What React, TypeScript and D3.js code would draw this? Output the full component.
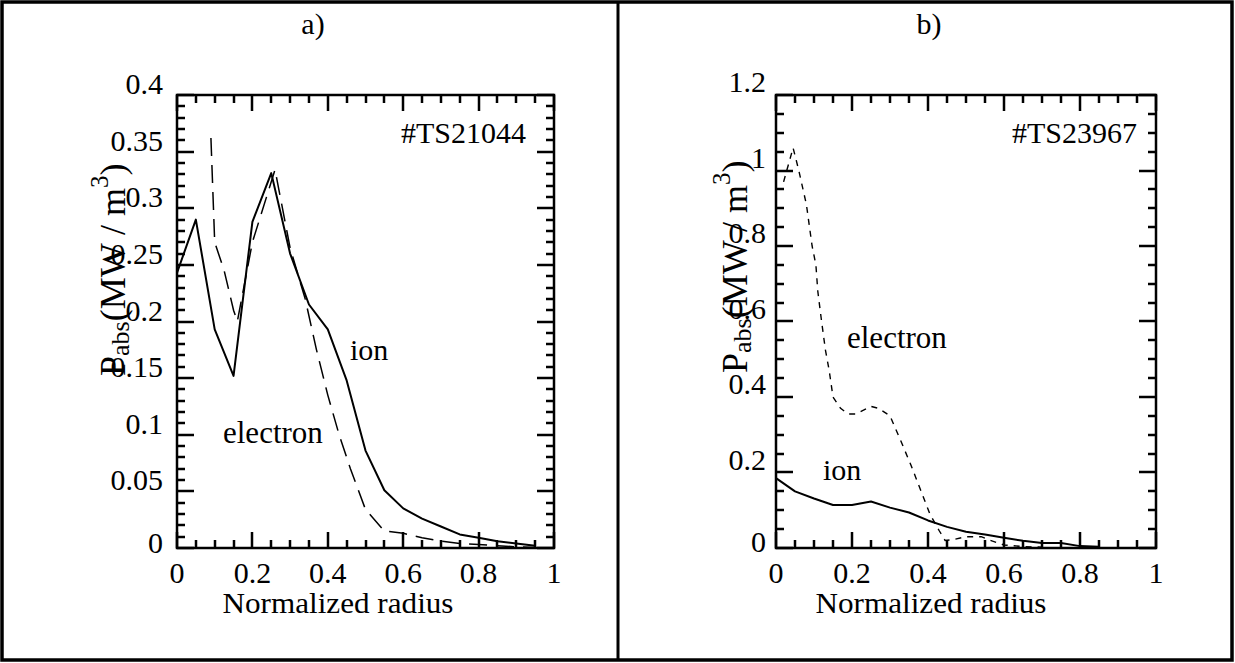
import React from "react";
import * as d3 from "d3";

// ---------- data ----------
const xTickValues = [0, 0.2, 0.4, 0.6, 0.8, 1];
const xTickLabels = ["0", "0.2", "0.4", "0.6", "0.8", "1"];

const yTickValuesA = [0, 0.05, 0.1, 0.15, 0.2, 0.25, 0.3, 0.35, 0.4];
const yTickLabelsA = ["0", "0.05", "0.1", "0.15", "0.2", "0.25", "0.3", "0.35", "0.4"];
const yTickValuesB = [0, 0.2, 0.4, 0.6, 0.8, 1, 1.2];
const yTickLabelsB = ["0", "0.2", "0.4", "0.6", "0.8", "1", "1.2"];

// panel a) #TS21044
const ionRadiusA = [0, 0.05, 0.1, 0.15, 0.2, 0.25, 0.3, 0.35, 0.4, 0.45, 0.5, 0.55, 0.6, 0.65, 0.7, 0.75, 0.8, 0.85, 0.9, 0.95];
const ionPowerA = [0.243, 0.29, 0.193, 0.152, 0.288, 0.331, 0.26, 0.215, 0.193, 0.148, 0.086, 0.051, 0.035, 0.026, 0.019, 0.012, 0.009, 0.006, 0.004, 0.002];
const electronRadiusA = [0.09, 0.1, 0.125, 0.15, 0.16, 0.2, 0.26, 0.3, 0.34, 0.37, 0.4, 0.43, 0.46, 0.5, 0.55, 0.6, 0.65, 0.7, 0.75, 0.8, 0.85, 0.9, 0.95];
const electronPowerA = [0.362, 0.27, 0.245, 0.21, 0.2, 0.27, 0.334, 0.265, 0.22, 0.175, 0.135, 0.1, 0.07, 0.034, 0.015, 0.013, 0.009, 0.006, 0.004, 0.003, 0.002, 0.001, 0.0005];

// panel b) #TS23967
const ionRadiusB = [0, 0.05, 0.1, 0.15, 0.2, 0.25, 0.3, 0.35, 0.4, 0.45, 0.5, 0.55, 0.6, 0.65, 0.7, 0.75, 0.8, 0.85];
const ionPowerB = [0.185, 0.15, 0.131, 0.114, 0.114, 0.123, 0.107, 0.094, 0.073, 0.056, 0.043, 0.036, 0.027, 0.019, 0.013, 0.013, 0.005, 0.003];
const electronRadiusB = [0.02, 0.045, 0.06, 0.08, 0.095, 0.105, 0.11, 0.12, 0.13, 0.14, 0.15, 0.17, 0.19, 0.21, 0.25, 0.27, 0.3, 0.33, 0.355, 0.38, 0.405, 0.43, 0.445, 0.465, 0.5, 0.54, 0.57, 0.6, 0.65, 0.7];
const electronPowerB = [0.97, 1.06, 1.0, 0.91, 0.8, 0.75, 0.68, 0.6, 0.525, 0.47, 0.4, 0.37, 0.355, 0.355, 0.375, 0.37, 0.35, 0.28, 0.22, 0.155, 0.09, 0.045, 0.02, 0.022, 0.03, 0.03, 0.018, 0.008, 0.004, 0.002];

const FONT = "Liberation Serif, Times New Roman, Times, serif";

type PanelCfg = {
  title: string;
  titleX: number;
  x0: number; x1: number; y0: number; y1: number;
  yMax: number;
  yTicks: number[]; yLabels: string[];
  yMinor: number; yMajor: number;
  labelRight: number; labelOff: number; zeroOff: number;
  shot: string; shotX: number;
  ionR: number[]; ionP: number[];
  elR: number[]; elP: number[];
  dash: string; dashWidth: number;
  ionLabel: [number, number]; elLabel: [number, number];
  ylabX: number; ylabY: number;
  xTitleX: number;
};

const panels: PanelCfg[] = [
  {
    title: "a)", titleX: 313,
    x0: 177, x1: 554, y0: 95, y1: 548,
    yMax: 0.4, yTicks: yTickValuesA, yLabels: yTickLabelsA,
    yMinor: 0.01, yMajor: 0.05,
    labelRight: 163, labelOff: -11, zeroOff: -5,
    shot: "#TS21044", shotX: 526,
    ionR: ionRadiusA, ionP: ionPowerA, elR: electronRadiusA, elP: electronPowerA,
    dash: "18,9", dashWidth: 1.5,
    ionLabel: [350, 360], elLabel: [223, 443],
    ylabX: 125, ylabY: 376,
    xTitleX: 338,
  },
  {
    title: "b)", titleX: 929,
    x0: 776, x1: 1156, y0: 95, y1: 548,
    yMax: 1.2, yTicks: yTickValuesB, yLabels: yTickLabelsB,
    yMinor: 0.05, yMajor: 0.2,
    labelRight: 766, labelOff: -13, zeroOff: -6,
    shot: "#TS23967", shotX: 1137,
    ionR: ionRadiusB, ionP: ionPowerB, elR: electronRadiusB, elP: electronPowerB,
    dash: "6,6", dashWidth: 1.4,
    ionLabel: [823, 480], elLabel: [847, 348],
    ylabX: 747, ylabY: 373,
    xTitleX: 931,
  },
];

function isMajor(v: number, step: number) {
  const r = v / step;
  return Math.abs(r - Math.round(r)) < 1e-6;
}

function Panel({ p }: { p: PanelCfg }) {
  const x = d3.scaleLinear().domain([0, 1]).range([p.x0, p.x1]);
  const y = d3.scaleLinear().domain([0, p.yMax]).range([p.y1, p.y0]);
  const mk = (rs: number[], ps: number[]) =>
    d3.line<[number, number]>().x((d) => x(d[0])).y((d) => y(d[1]))(rs.map((r, i) => [r, ps[i]] as [number, number])) || "";

  const xMinor = d3.range(0, 1 + 1e-9, 0.05);
  const yMinor = d3.range(0, p.yMax + 1e-9, p.yMinor);

  let tickPath = "";
  xMinor.forEach((v) => {
    const L = isMajor(v, 0.2) ? 16 : 8;
    const xx = Math.round(x(v));
    tickPath += `M${xx},${p.y1}V${p.y1 - L}M${xx},${p.y0}V${p.y0 + L}`;
  });
  yMinor.forEach((v) => {
    const L = isMajor(v, p.yMajor) ? 17 : 8;
    const yy = Math.round(y(v));
    tickPath += `M${p.x0},${yy}H${p.x0 + L}M${p.x1},${yy}H${p.x1 - L}`;
  });

  const txt = { fontFamily: FONT };

  return (
    <g>
      <text x={p.titleX} y={34} fontSize={30} textAnchor="middle" style={txt}>{p.title}</text>
      {/* data */}
      <path d={mk(p.elR, p.elP)} fill="none" stroke="#000" strokeWidth={p.dashWidth} strokeDasharray={p.dash} />
      <path d={mk(p.ionR, p.ionP)} fill="none" stroke="#000" strokeWidth={2} strokeLinejoin="round" />
      {/* frame & ticks */}
      <rect x={p.x0} y={p.y0} width={p.x1 - p.x0} height={p.y1 - p.y0} fill="none" stroke="#000" strokeWidth={2.5} />
      <path d={tickPath} fill="none" stroke="#000" strokeWidth={2.5} strokeLinecap="butt" />
      {xTickValues.map((v, i) => (
        <text key={"xl" + i} x={x(v)} y={p.y1 + 35} fontSize={30} textAnchor="middle" style={txt}>{xTickLabels[i]}</text>
      ))}
      {p.yTicks.map((v, i) => (
        <text key={"yl" + i} x={p.labelRight} y={y(v) + (v === 0 ? p.zeroOff : p.labelOff) + 10} fontSize={30} textAnchor="end" style={txt}>{p.yLabels[i]}</text>
      ))}
      <text x={p.xTitleX} y={p.y1 + 65} fontSize={29} textAnchor="middle" style={txt} textLength={231} lengthAdjust="spacingAndGlyphs">Normalized radius</text>
      <text x={p.shotX} y={143} fontSize={30} textAnchor="end" style={txt}>{p.shot}</text>
      <text x={p.ionLabel[0]} y={p.ionLabel[1]} fontSize={30} style={txt}>ion</text>
      <text x={p.elLabel[0]} y={p.elLabel[1]} fontSize={31} style={txt}>electron</text>
      <text transform={`translate(${p.ylabX},${p.ylabY}) rotate(-90)`} fontSize={36} style={txt}>
        <tspan>P</tspan>
        <tspan fontSize={26} dy={4}>abs</tspan>
        <tspan dy={-4}>(MW / m</tspan>
        <tspan fontSize={25} dy={-17}>3</tspan>
        <tspan dy={17}>)</tspan>
      </text>
    </g>
  );
}

export default function App() {
  return (
    <svg width={1235} height={663} style={{ position: "absolute", left: 0, top: 0, background: "#fff" }}>
      <rect x={0} y={0} width={1235} height={663} fill="#fff" />
      <rect x={2} y={2} width={1230} height={658} fill="none" stroke="#000" strokeWidth={3.5} />
      <line x1={618} x2={618} y1={2} y2={660} stroke="#000" strokeWidth={3} />
      {panels.map((p, i) => <Panel key={i} p={p} />)}
    </svg>
  );
}
